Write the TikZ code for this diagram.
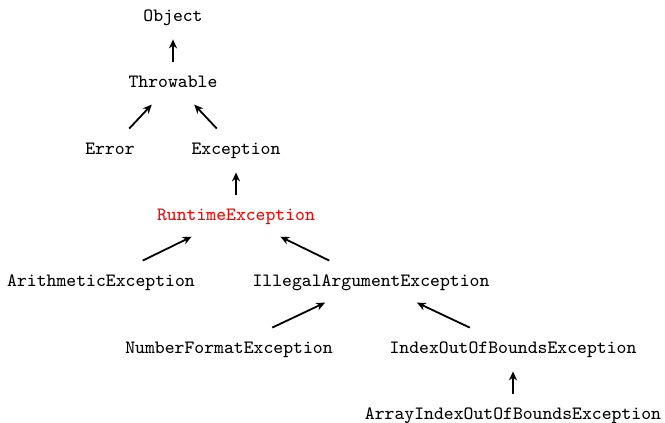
\documentclass[tikz,border=0pt]{standalone}
\usetikzlibrary{arrows.meta}
\begin{document}
\begin{tikzpicture}[x=0.5pt,y=-0.5pt,
  cls/.style={font=\ttfamily\fontsize{9.4}{11}\selectfont, inner xsep=2pt, inner ysep=6pt, text height=6.5pt, text depth=1.5pt},
  inh/.style={-{Stealth[length=4.5pt,width=4pt]}, line width=0.9pt, shorten >=1.5pt}]
\useasboundingbox (0,0) rectangle (665,423);
\node[cls] (obj) at (173,16) {Object};
\node[cls] (thr) at (173,82) {Throwable};
\node[cls] (err) at (110,149) {Error};
\node[cls] (exc) at (236,149) {Exception};
\node[cls, text=red] (rte) at (236,215) {RuntimeException};
\node[cls] (ari) at (101,281) {ArithmeticException};
\node[cls] (ill) at (371,281) {IllegalArgumentException};
\node[cls] (nfe) at (229,348) {NumberFormatException};
\node[cls] (ioo) at (513,348) {IndexOutOfBoundsException};
\node[cls] (aio) at (513,414) {ArrayIndexOutOfBoundsException};
\draw[inh] (thr) -- (obj);
\draw[inh] (err) -- (thr);
\draw[inh] (exc) -- (thr);
\draw[inh] (rte) -- (exc);
\draw[inh] (ari) -- (rte);
\draw[inh] (ill) -- (rte);
\draw[inh] (nfe) -- (ill);
\draw[inh] (ioo) -- (ill);
\draw[inh] (aio) -- (ioo);
\end{tikzpicture}
\end{document}
